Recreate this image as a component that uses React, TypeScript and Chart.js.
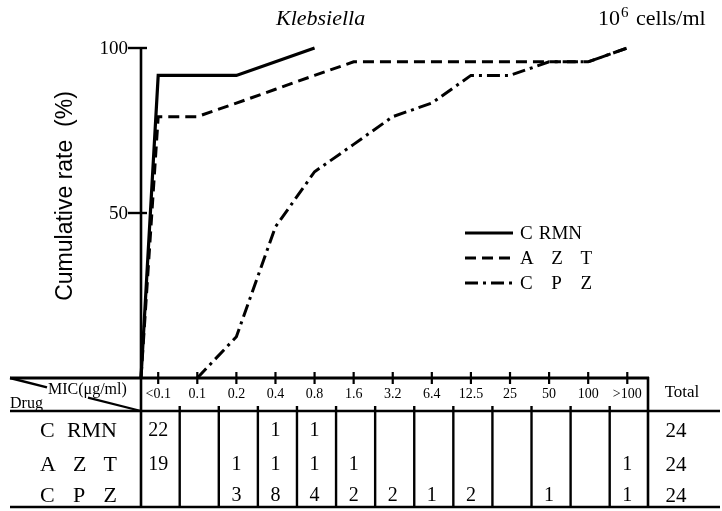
import React, { useEffect, useRef } from "react";
import { Chart, registerables } from "chart.js";

Chart.register(...registerables);

// ---- data ----
const CATEGORIES = ["<0.1", "0.1", "0.2", "0.4", "0.8", "1.6", "3.2", "6.4", "12.5", "25", "50", "100", ">100"];
const DRUGS = ["C RMN", "A Z T", "C P Z"];
const CRMN_RATE = [91.7, 91.7, 91.7, 95.8, 100, null, null, null, null, null, null, null, null];
const AZT_RATE = [79.2, 79.2, 83.3, 87.5, 91.7, 95.8, 95.8, 95.8, 95.8, 95.8, 95.8, 95.8, 100];
const CPZ_RATE = [null, 0, 12.5, 45.8, 62.5, 70.8, 79.2, 83.3, 91.7, 91.7, 95.8, 95.8, 100];
const CRMN_COUNT = [22, null, null, 1, 1, null, null, null, null, null, null, null, null];
const AZT_COUNT = [19, null, 1, 1, 1, 1, null, null, null, null, null, null, 1];
const CPZ_COUNT = [null, null, 3, 8, 4, 2, 2, 1, 2, null, 1, null, 1];
const TOTALS = [24, 24, 24];
const Y_TICKS = [50, 100];
const X_MIN = -0.44;
const X_MAX = 12.53;
const TITLE = "Klebsiella";
const INOCULUM_BASE = "10";
const INOCULUM_EXP = "6";
const INOCULUM_UNIT = " cells/ml";
const Y_TITLE = "Cumulative rate  (%)";
const MIC_LABEL = "MIC(\u03bcg/ml)";
const DRUG_LABEL = "Drug";
const TOTAL_LABEL = "Total";

// ---- styles ----
const SERIF = "'Liberation Serif', 'DejaVu Serif', serif";
const SANS = "'Liberation Sans', Arial, sans-serif";
const DASHES = [[], [11, 6], [13, 5, 3, 5]];
const WIDTHS = [3.2, 3, 3];
const COUNTS = [CRMN_COUNT, AZT_COUNT, CPZ_COUNT];
const RATES = [CRMN_RATE, AZT_RATE, CPZ_RATE];
const FROM_ORIGIN = [true, true, false];

function buildPoints(rate: (number | null)[], fromOrigin: boolean) {
  const pts: { x: number; y: number }[] = [];
  if (fromOrigin) pts.push({ x: X_MIN, y: 0 });
  rate.forEach((v, i) => {
    if (v !== null) pts.push({ x: i, y: v });
  });
  return pts;
}

function drawSpread(ctx: CanvasRenderingContext2D, text: string, x0: number, x1: number, y: number) {
  const tokens = text.split(/\s+/).filter(Boolean);
  const widths = tokens.map((t) => ctx.measureText(t).width);
  const total = widths.reduce((a, b) => a + b, 0);
  const gap = tokens.length > 1 ? (x1 - x0 - total) / (tokens.length - 1) : 0;
  let x = x0;
  ctx.textAlign = "left";
  tokens.forEach((t, i) => {
    ctx.fillText(t, x, y);
    x += widths[i] + gap;
  });
}

const decorPlugin = {
  id: "decor",
  beforeDatasetsDraw(chart: any) {
    const ctx: CanvasRenderingContext2D = chart.ctx;
    const xs = chart.scales.x;
    const ys = chart.scales.y;
    const { left: L, right: R, bottom: B } = chart.chartArea;
    const tableLeft = 10;
    const tableRight = 720;
    const headerBottom = 411;
    const tableBottom = 507;
    const rowY = [430, 464, 495];
    const totalX = 676;

    ctx.save();
    ctx.strokeStyle = "#000";
    ctx.fillStyle = "#000";
    ctx.lineCap = "butt";

    const line = (x1: number, y1: number, x2: number, y2: number, w: number) => {
      ctx.lineWidth = w;
      ctx.beginPath();
      ctx.moveTo(x1, y1);
      ctx.lineTo(x2, y2);
      ctx.stroke();
    };

    // y axis (continues through table)
    line(L, ys.getPixelForValue(100) - 1, L, tableBottom, 2.6);
    ctx.font = `19px ${SERIF}`;
    ctx.textAlign = "right";
    ctx.textBaseline = "middle";
    Y_TICKS.forEach((v) => {
      const y = ys.getPixelForValue(v);
      line(L - 13, y, L + 6, y, 2.4);
      ctx.fillText(String(v), L - 13, y + 1);
    });

    // x axis / table top
    line(tableLeft, B, R + 1, B, 2.8);
    line(R, B - 1, R, tableBottom, 2.6);
    ctx.font = `14px ${SERIF}`;
    ctx.textAlign = "center";
    CATEGORIES.forEach((c, i) => {
      const x = xs.getPixelForValue(i);
      line(x, B - 6, x, B + 6, 2.2);
      ctx.fillText(c, x, B + 16);
    });

    // header line and bottom line
    line(tableLeft, headerBottom, tableRight, headerBottom, 2.6);
    line(tableLeft, tableBottom, tableRight, tableBottom, 2.6);

    // column separators
    for (let i = 0; i < CATEGORIES.length - 1; i++) {
      const x = xs.getPixelForValue(i + 0.55);
      line(x, headerBottom - 5, x, tableBottom, 2.4);
    }

    // diagonal header
    const dy = (headerBottom - B) / (L - tableLeft);
    const yAt = (x: number) => B + (x - tableLeft) * dy;
    line(tableLeft, yAt(tableLeft), 47, yAt(47), 2.4);
    line(88, yAt(88), L - 1, yAt(L - 1), 2.2);
    ctx.textBaseline = "alphabetic";
    ctx.textAlign = "left";
    ctx.font = `16px ${SERIF}`;
    ctx.fillText(MIC_LABEL, 48, 394);
    ctx.font = `16px ${SERIF}`;
    ctx.fillText(DRUG_LABEL, 10, 408);

    // Total header
    ctx.font = `17px ${SERIF}`;
    ctx.textAlign = "center";
    ctx.textBaseline = "middle";
    ctx.fillText(TOTAL_LABEL, 682, 393);

    // rows
    DRUGS.forEach((d, r) => {
      ctx.font = `22px ${SERIF}`;
      ctx.textBaseline = "middle";
      drawSpread(ctx, d, 40, 117, rowY[r] + 1);
      ctx.font = `20px ${SERIF}`;
      ctx.textAlign = "center";
      COUNTS[r].forEach((n, i) => {
        if (n !== null) ctx.fillText(String(n), xs.getPixelForValue(i), rowY[r] + 1);
      });
      ctx.font = `21px ${SERIF}`;
      ctx.fillText(String(TOTALS[r]), totalX, rowY[r] + 1);
    });

    // title
    ctx.font = `italic 22px ${SERIF}`;
    ctx.textAlign = "left";
    ctx.textBaseline = "alphabetic";
    ctx.fillText(TITLE, 276, 25);
    // inoculum
    const ix = 598;
    ctx.font = `22px ${SERIF}`;
    ctx.fillText(INOCULUM_BASE, ix, 25);
    const bw = ctx.measureText(INOCULUM_BASE).width;
    ctx.font = `15px ${SERIF}`;
    ctx.fillText(INOCULUM_EXP, ix + bw + 1, 17);
    const ew = ctx.measureText(INOCULUM_EXP).width;
    ctx.font = `22px ${SERIF}`;
    ctx.fillText(INOCULUM_UNIT, ix + bw + ew + 3, 25);

    // y title
    ctx.save();
    ctx.translate(66, 196);
    ctx.rotate(-Math.PI / 2);
    ctx.font = `23px ${SANS}`;
    ctx.textAlign = "center";
    ctx.textBaseline = "middle";
    ctx.fillText(Y_TITLE, 0, 0);
    ctx.restore();

    // legend
    const legY = [233, 258, 283];
    DRUGS.forEach((d, r) => {
      ctx.save();
      ctx.setLineDash(DASHES[r]);
      line(465, legY[r], 513, legY[r], WIDTHS[r]);
      ctx.restore();
      ctx.font = `19px ${SERIF}`;
      ctx.textBaseline = "middle";
      drawSpread(ctx, d, 520, r === 0 ? 582 : 592, legY[r] + 1);
    });

    ctx.restore();
  },
};

export default function App() {
  const ref = useRef<HTMLCanvasElement | null>(null);
  useEffect(() => {
    document.body.style.margin = "0";
    if (!ref.current) return;
    const chart = new Chart(ref.current, {
      type: "line",
      data: {
        datasets: RATES.map((rate, r) => ({
          label: DRUGS[r],
          data: buildPoints(rate, FROM_ORIGIN[r]),
          borderColor: "#000",
          backgroundColor: "#000",
          borderWidth: WIDTHS[r],
          borderDash: DASHES[r],
          borderJoinStyle: "miter",
          pointRadius: 0,
          tension: 0,
          fill: false,
          clip: false,
        })) as any,
      },
      options: {
        animation: false,
        responsive: false,
        maintainAspectRatio: false,
        devicePixelRatio: 1,
        layout: { padding: { left: 141, right: 74, top: 48, bottom: 133 } },
        scales: {
          x: { type: "linear", min: X_MIN, max: X_MAX, display: false },
          y: { type: "linear", min: 0, max: 100, display: false },
        },
        plugins: { legend: { display: false }, tooltip: { enabled: false } },
      },
      plugins: [decorPlugin],
    });
    return () => chart.destroy();
  }, []);
  return (
    <div style={{ width: 722, height: 511, background: "#fff" }}>
      <canvas ref={ref} width={722} height={511} />
    </div>
  );
}
